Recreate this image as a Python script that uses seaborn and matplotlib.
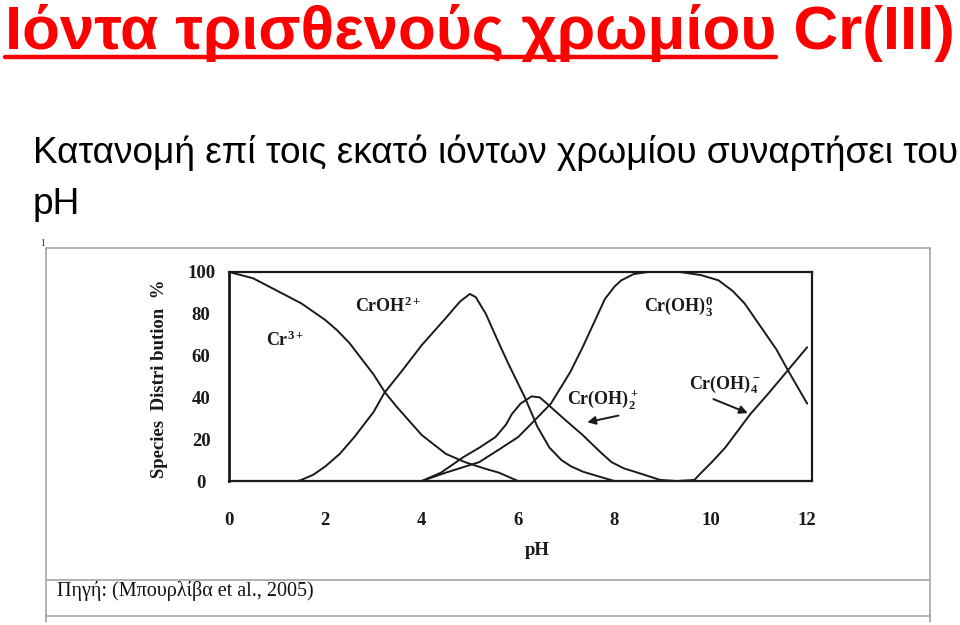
import matplotlib
matplotlib.use('Agg')
import matplotlib.pyplot as plt
from matplotlib.lines import Line2D
import pandas as pd
import seaborn as sns

# species distribution of Cr(III) vs pH
cr3_ph = [0, 0.5, 1, 1.5, 2, 2.25, 2.5, 3, 3.25, 3.5, 4, 4.5, 4.9, 5.3, 5.6, 6]
cr3_pct = [100, 97, 91, 85, 77, 72, 66, 51, 42, 35, 22, 13, 9, 6, 4, 0]

croh_ph = [0.7, 0.9, 1.1, 1.3, 1.5, 1.75, 2, 2.3, 2.6, 3, 3.22, 3.6, 4, 4.5, 4.8, 5,
           5.12, 5.33, 5.6, 5.8, 6.14, 6.4, 6.65, 6.9, 7.1, 7.34, 7.7, 8]
croh_pct = [0, -0.8, -1.2, -0.8, 0.5, 3, 7, 13, 21, 33, 42, 53, 65, 78, 86, 89.5,
            88, 80, 66, 56, 40, 26, 16, 10, 7, 4.5, 2, 0]

croh2_ph = [4, 4.4, 4.87, 5.2, 5.53, 5.75, 5.87, 6.05, 6.28, 6.45, 6.6, 6.94, 7.34,
            7.7, 7.94, 8.2, 8.48, 8.95, 9.3]
croh2_pct = [0, 4, 11.5, 16, 21, 27, 32, 37, 40.5, 40, 37, 30, 22, 14, 9, 6, 4, 0.5, 0]

croh3_ph = [4, 4.5, 5.19, 5.6, 6, 6.3, 6.68, 7.08, 7.34, 7.6, 7.8, 8, 8.14, 8.4,
            8.69, 9.36, 9.8, 10.16, 10.45, 10.7, 11, 11.36, 11.6, 11.8, 12]
croh3_pct = [0, 4, 9, 15, 21, 28, 37, 52, 64, 77, 87, 93, 96, 99,
             100, 100, 98.5, 96, 91, 85, 75, 63, 53, 45, 37]

croh4_ph = [9.3, 9.66, 9.76, 10.02, 10.3, 10.82, 11.2, 11.6, 12]
croh4_pct = [0, 0.5, 3, 9, 16, 32, 42, 53, 64]

x_ticks = [0, 2, 4, 6, 8, 10, 12]
y_ticks = [0, 20, 40, 60, 80, 100]

# curve labels and arrows
lab_text = ['Cr$^{3+}$', 'CrOH$^{2+}$', 'Cr(OH)$_3^0$', 'Cr(OH)$_2^+$', 'Cr(OH)$_4^-$']
lab_x = [1.16, 3.3, 9.33, 7.76, 10.3]
lab_y = [67.5, 83.7, 83.7, 38.8, 46.4]
arrow_from = [(8.14, 31.6), (10.0, 39.7)]
arrow_to = [(7.38, 27.8), (10.82, 32.0)]

df = pd.concat([
    pd.DataFrame({'pH': cr3_ph, 'pct': cr3_pct, 'species': 'Cr3+'}),
    pd.DataFrame({'pH': croh_ph, 'pct': croh_pct, 'species': 'CrOH2+'}),
    pd.DataFrame({'pH': croh2_ph, 'pct': croh2_pct, 'species': 'Cr(OH)2+'}),
    pd.DataFrame({'pH': croh3_ph, 'pct': croh3_pct, 'species': 'Cr(OH)3'}),
    pd.DataFrame({'pH': croh4_ph, 'pct': croh4_pct, 'species': 'Cr(OH)4-'}),
])

sns.set_theme(style='white')
plt.rcParams['mathtext.fontset'] = 'custom'
plt.rcParams['mathtext.rm'] = 'Liberation Serif:bold'
plt.rcParams['mathtext.bf'] = 'Liberation Serif:bold'
plt.rcParams['mathtext.default'] = 'bf'

W, H = 960, 625
fig = plt.figure(figsize=(9.6, 6.25), dpi=100)
fig.patch.set_facecolor('white')

# slide title, red, partly underlined
sans = ['Liberation Sans', 'DejaVu Sans']
title = fig.text(5 / W, 1 - 49 / H, 'Ιόντα τρισθενούς χρωμίου Cr(III)', color='#ff0000',
                 fontsize=40, fontweight='bold', family=sans, va='baseline', ha='left')
under = fig.text(5 / W, 1 - 49 / H, 'Ιόντα τρισθενούς χρωμίου', color='none',
                 fontsize=40, fontweight='bold', family=sans, va='baseline', ha='left')
sub1 = fig.text(33 / W, 1 - 163 / H, 'Κατανομή επί τοις εκατό ιόντων χρωμίου συναρτήσει του',
                color='black', fontsize=20, family=sans, va='baseline', ha='left')
sub2 = fig.text(33 / W, 1 - 214 / H, 'pH', color='black', fontsize=20, family=sans,
                va='baseline', ha='left')

# fit the slide texts to the widths they take on the slide
fig.canvas.draw()
r = fig.canvas.get_renderer()
fs = 40 * 950 / title.get_window_extent(r).width
title.set_fontsize(fs)
under.set_fontsize(fs)
fs2 = 20 * 925 / sub1.get_window_extent(r).width
sub1.set_fontsize(fs2)
sub2.set_fontsize(fs2)
fig.canvas.draw()
uw = under.get_window_extent(r).width
under.remove()
fig.add_artist(Line2D([5 / W, (5 + uw) / W], [1 - 57 / H, 1 - 57 / H], color='#ff0000', lw=3.2))

# picture frame of the slide
grey = '#a6a6a6'
for (x0, y0, x1, y1) in [(46, 248.5, 930, 248.5), (46, 248, 46, 622), (930, 248, 930, 622),
                         (46, 579.5, 930, 579.5), (46, 615.5, 930, 615.5)]:
    fig.add_artist(Line2D([x0 / W, x1 / W], [1 - y0 / H, 1 - y1 / H], color=grey, lw=1.2))
fig.text(43 / W, 1 - 243 / H, '1', fontsize=7, family='Liberation Serif', ha='center', va='center')
fig.text(57 / W, 1 - 591 / H, 'Πηγή: (Μπουρλίβα et al., 2005)', fontsize=14.5,
         family='Liberation Serif', ha='left', va='center', color='#111111')

# chart
ax = fig.add_axes([229 / W, 1 - 481 / H, 583 / W, 209 / H])
sns.lineplot(data=df, x='pH', y='pct', hue='species', units='species', estimator=None,
             palette=['#1a1a1a'] * 5, legend=False, lw=1.4, ax=ax)
ax.set_xlim(0, 12.1)
ax.set_ylim(0, 100)
ax.set_facecolor('white')
ax.set_xticks(x_ticks)
ax.set_xticklabels([str(v) for v in x_ticks])
ax.set_yticks(y_ticks)
ax.set_yticklabels([str(v) for v in y_ticks])
for s in ax.spines.values():
    s.set_color('#1a1a1a')
    s.set_linewidth(1.6)
    s.set_visible(True)
ax.spines['left'].set_linewidth(2)
ax.tick_params(axis='x', direction='inout', length=14, width=1.2, color='#1a1a1a', pad=15,
               labelsize=13.5, labelcolor='#1a1a1a')
ax.tick_params(axis='y', direction='in', length=16, width=1.6, color='#1a1a1a', pad=20,
               labelsize=13.5, labelcolor='#1a1a1a')
ticks = ax.xaxis.get_major_ticks()
ticks[0].tick1line.set_visible(False)
ticks[-1].tick1line.set_visible(False)
for lbl in ax.get_xticklabels() + ax.get_yticklabels():
    lbl.set_family('Liberation Serif')
    lbl.set_fontweight('bold')
for lbl in ax.get_yticklabels():
    lbl.set_ha('center')

ax.set_xlabel('pH', family='Liberation Serif', fontweight='bold', fontsize=13.5, color='#1a1a1a')
ax.xaxis.set_label_coords(0.528, -0.29)
ax.xaxis.label.set_va('top')
ax.set_ylabel('Species  Distri bution  %', family='Liberation Serif', fontweight='bold',
              fontsize=13.5, color='#1a1a1a')
ax.yaxis.set_label_coords(-0.105, 0.49)

for t, x, y in zip(lab_text, lab_x, lab_y):
    ax.text(x, y, t, family='Liberation Serif', fontweight='bold', fontsize=13,
            color='#1a1a1a', ha='center', va='center')
for (x0, y0), (x1, y1) in zip(arrow_from, arrow_to):
    ax.annotate('', xy=(x1, y1), xytext=(x0, y0),
                arrowprops=dict(arrowstyle='-|>', color='#1a1a1a', lw=1.4, mutation_scale=12))

fig.savefig('out.png', dpi=100, facecolor='white')
